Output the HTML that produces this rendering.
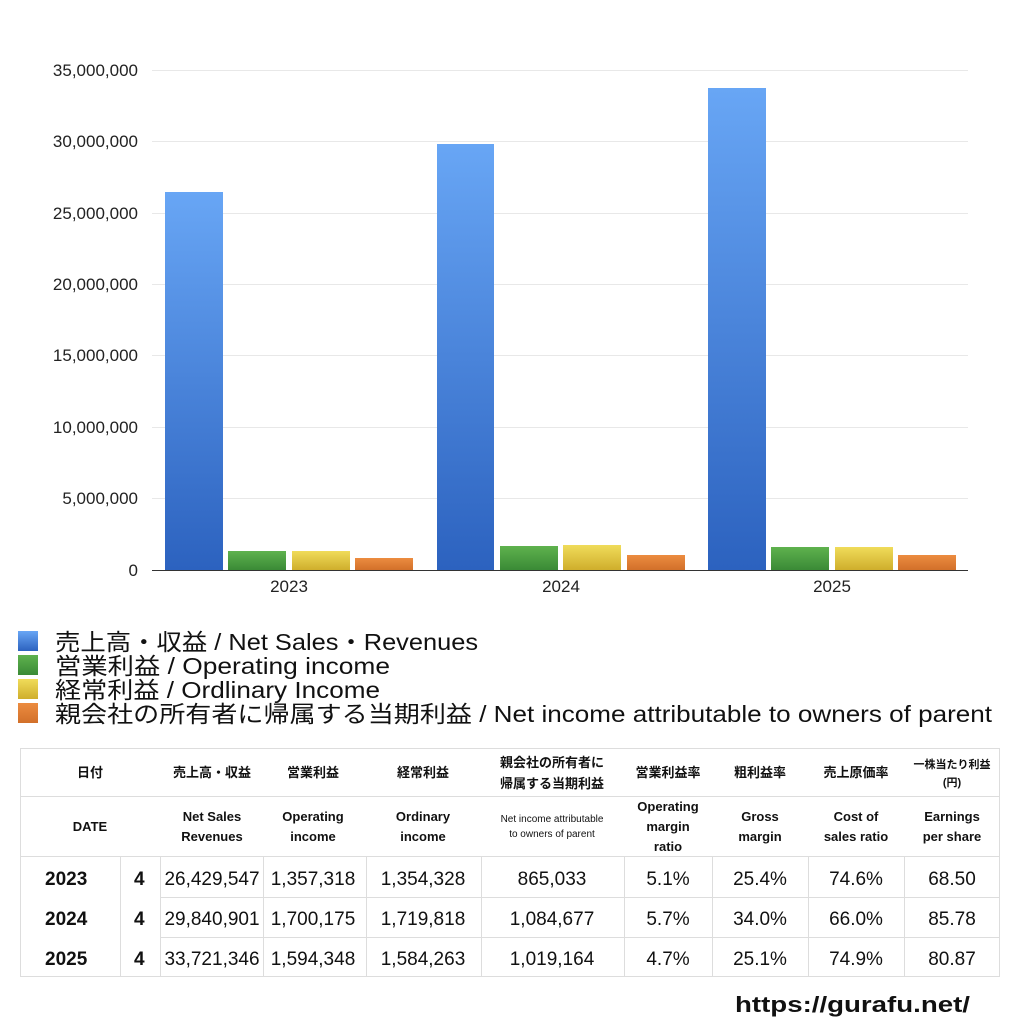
<!DOCTYPE html>
<html><head><meta charset="utf-8"><style>
body{margin:0;background:#fff;}
svg{display:block;font-family:"Liberation Sans","Noto Sans CJK JP",sans-serif;}
</style></head><body>
<svg width="1024" height="1024" viewBox="0 0 1024 1024" xmlns="http://www.w3.org/2000/svg">
<defs>
<linearGradient id="gb" x1="0" y1="0" x2="0" y2="1"><stop offset="0" stop-color="#68a6f5"/><stop offset="1" stop-color="#2c62bf"/></linearGradient>
<linearGradient id="gg" x1="0" y1="0" x2="0" y2="1"><stop offset="0" stop-color="#5fb24e"/><stop offset="1" stop-color="#3a8a36"/></linearGradient>
<linearGradient id="gy" x1="0" y1="0" x2="0" y2="1"><stop offset="0" stop-color="#f0dc5a"/><stop offset="1" stop-color="#cfae2c"/></linearGradient>
<linearGradient id="go" x1="0" y1="0" x2="0" y2="1"><stop offset="0" stop-color="#ec8c40"/><stop offset="1" stop-color="#d2702a"/></linearGradient>
</defs>
<g stroke="#e8e8e8" stroke-width="1">
<line x1="152" y1="70.5" x2="968" y2="70.5"/><line x1="152" y1="141.5" x2="968" y2="141.5"/>
<line x1="152" y1="213.5" x2="968" y2="213.5"/><line x1="152" y1="284.5" x2="968" y2="284.5"/>
<line x1="152" y1="355.5" x2="968" y2="355.5"/><line x1="152" y1="427.5" x2="968" y2="427.5"/>
<line x1="152" y1="498.5" x2="968" y2="498.5"/>
</g>
<g font-size="17" fill="#222" text-anchor="end">
<text x="138" y="76">35,000,000</text><text x="138" y="147">30,000,000</text>
<text x="138" y="219">25,000,000</text><text x="138" y="290">20,000,000</text>
<text x="138" y="361">15,000,000</text><text x="138" y="433">10,000,000</text>
<text x="138" y="504">5,000,000</text><text x="138" y="576">0</text>
</g>
<rect x="165" y="192" width="58" height="378" fill="url(#gb)"/>
<rect x="228" y="551" width="58" height="19" fill="url(#gg)"/>
<rect x="292" y="551" width="58" height="19" fill="url(#gy)"/>
<rect x="355" y="558" width="58" height="12" fill="url(#go)"/>
<rect x="437" y="144" width="57" height="426" fill="url(#gb)"/>
<rect x="500" y="546" width="58" height="24" fill="url(#gg)"/>
<rect x="563" y="545" width="58" height="25" fill="url(#gy)"/>
<rect x="627" y="555" width="58" height="15" fill="url(#go)"/>
<rect x="708" y="88" width="58" height="482" fill="url(#gb)"/>
<rect x="771" y="547" width="58" height="23" fill="url(#gg)"/>
<rect x="835" y="547" width="58" height="23" fill="url(#gy)"/>
<rect x="898" y="555" width="58" height="15" fill="url(#go)"/>
<line x1="152" y1="570.5" x2="968" y2="570.5" stroke="#333"/>
<g font-size="17" fill="#222" text-anchor="middle">
<text x="289" y="592">2023</text><text x="561" y="592">2024</text><text x="832" y="592">2025</text>
</g>
<rect x="18" y="631" width="20" height="20" fill="url(#gb)"/>
<rect x="18" y="655" width="20" height="20" fill="url(#gg)"/>
<rect x="18" y="679" width="20" height="20" fill="url(#gy)"/>
<rect x="18" y="703" width="20" height="20" fill="url(#go)"/>
<g font-size="23" fill="#111">
<text x="55" y="650" textLength="423" lengthAdjust="spacingAndGlyphs">売上高・収益 / Net Sales・Revenues</text>
<text x="55" y="674" textLength="335" lengthAdjust="spacingAndGlyphs">営業利益 / Operating income</text>
<text x="55" y="698" textLength="325" lengthAdjust="spacingAndGlyphs">経常利益 / Ordlinary Income</text>
<text x="55" y="722" textLength="937" lengthAdjust="spacingAndGlyphs">親会社の所有者に帰属する当期利益 / Net income attributable to owners of parent</text>
</g>
<g stroke="#ddd" stroke-width="1" fill="none">
<rect x="20.5" y="748.5" width="979" height="228"/>
<line x1="20" y1="796.5" x2="1000" y2="796.5"/>
<line x1="20" y1="856.5" x2="1000" y2="856.5"/>
<line x1="160" y1="897.5" x2="1000" y2="897.5"/>
<line x1="160" y1="937.5" x2="1000" y2="937.5"/>
<line x1="120.5" y1="856" x2="120.5" y2="977"/>
<line x1="160.5" y1="856" x2="160.5" y2="977"/>
<line x1="263.5" y1="856" x2="263.5" y2="977"/>
<line x1="366.5" y1="856" x2="366.5" y2="977"/>
<line x1="481.5" y1="856" x2="481.5" y2="977"/>
<line x1="624.5" y1="856" x2="624.5" y2="977"/>
<line x1="712.5" y1="856" x2="712.5" y2="977"/>
<line x1="808.5" y1="856" x2="808.5" y2="977"/>
<line x1="904.5" y1="856" x2="904.5" y2="977"/>
</g>
<g font-size="13" font-weight="bold" fill="#111" text-anchor="middle">
<text x="90" y="777">日付</text>
<text x="212" y="777">売上高・収益</text>
<text x="313" y="777">営業利益</text>
<text x="423" y="777">経常利益</text>
<text x="552" y="767">親会社の所有者に</text>
<text x="552" y="788">帰属する当期利益</text>
<text x="668" y="777">営業利益率</text>
<text x="760" y="777">粗利益率</text>
<text x="856" y="777">売上原価率</text>
<text x="952" y="768" font-size="11">一株当たり利益</text>
<text x="952" y="786" font-size="11">(円)</text>
<text x="90" y="831">DATE</text>
<text x="212" y="821">Net Sales</text><text x="212" y="841">Revenues</text>
<text x="313" y="821">Operating</text><text x="313" y="841">income</text>
<text x="423" y="821">Ordinary</text><text x="423" y="841">income</text>
<text x="552" y="822" font-size="10" font-weight="normal">Net income attributable</text>
<text x="552" y="837" font-size="10" font-weight="normal">to owners of parent</text>
<text x="668" y="811">Operating</text><text x="668" y="831">margin</text><text x="668" y="851">ratio</text>
<text x="760" y="821">Gross</text><text x="760" y="841">margin</text>
<text x="856" y="821">Cost of</text><text x="856" y="841">sales ratio</text>
<text x="952" y="821">Earnings</text><text x="952" y="841">per share</text>
</g>
<g font-size="19" fill="#111">
<g font-weight="bold"><text x="45" y="885">2023</text><text x="45" y="925">2024</text><text x="45" y="965">2025</text>
<text x="134" y="885">4</text><text x="134" y="925">4</text><text x="134" y="965">4</text></g>
<g text-anchor="middle">
<text x="212" y="885">26,429,547</text><text x="313" y="885">1,357,318</text><text x="423" y="885">1,354,328</text><text x="552" y="885">865,033</text><text x="668" y="885">5.1%</text><text x="760" y="885">25.4%</text><text x="856" y="885">74.6%</text><text x="952" y="885">68.50</text>
<text x="212" y="925">29,840,901</text><text x="313" y="925">1,700,175</text><text x="423" y="925">1,719,818</text><text x="552" y="925">1,084,677</text><text x="668" y="925">5.7%</text><text x="760" y="925">34.0%</text><text x="856" y="925">66.0%</text><text x="952" y="925">85.78</text>
<text x="212" y="965">33,721,346</text><text x="313" y="965">1,594,348</text><text x="423" y="965">1,584,263</text><text x="552" y="965">1,019,164</text><text x="668" y="965">4.7%</text><text x="760" y="965">25.1%</text><text x="856" y="965">74.9%</text><text x="952" y="965">80.87</text>
</g></g>
<text x="735" y="1012" font-size="22" font-weight="bold" fill="#111" textLength="235" lengthAdjust="spacingAndGlyphs">https://gurafu.net/</text>
</svg>
</body></html>
